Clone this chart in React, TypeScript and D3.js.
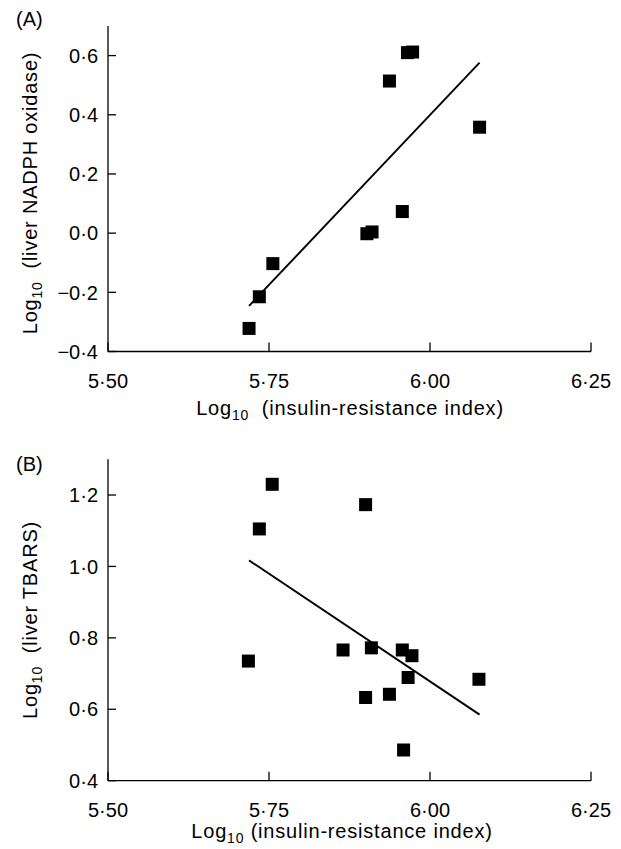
import React from "react";
import * as d3 from "d3";

const xTicks = [5.5, 5.75, 6.0, 6.25];
const xTickLabels = ["5·50", "5·75", "6·00", "6·25"];

const yTicksA = [-0.4, -0.2, 0.0, 0.2, 0.4, 0.6];
const yTickLabelsA = ["−0·4", "−0·2", "0·0", "0·2", "0·4", "0·6"];
const yTicksB = [0.4, 0.6, 0.8, 1.0, 1.2];
const yTickLabelsB = ["0·4", "0·6", "0·8", "1·0", "1·2"];

const xA = [5.719, 5.735, 5.756, 5.902, 5.910, 5.957, 5.937, 5.965, 5.973, 6.077];
const yA = [-0.322, -0.215, -0.103, -0.002, 0.004, 0.073, 0.514, 0.610, 0.612, 0.358];

const xB = [5.718, 5.735, 5.755, 5.900, 5.865, 5.909, 5.957, 5.972, 5.966, 5.900, 5.937, 5.959, 6.076];
const yB = [0.735, 1.105, 1.230, 1.173, 0.766, 0.772, 0.766, 0.750, 0.689, 0.633, 0.642, 0.486, 0.684];

const fitX = [5.719, 6.077];
const fitA = [-0.246, 0.576];
const fitB = [1.017, 0.585];

const FONT = "'Liberation Sans', Arial, Helvetica, sans-serif";

type PanelProps = {
  tag: string;
  yDomain: [number, number];
  yRange: [number, number];
  yTicks: number[];
  yTickLabels: string[];
  xs: number[];
  ys: number[];
  fitY: number[];
  yLabel: string;
  xLabelGap: string;
  xLabelX: number;
  xLabelY: number;
  yLabelY: number;
  tagY: number;
};

function Panel(p: PanelProps) {
  const x = d3.scaleLinear().domain([5.5, 6.25]).range([108, 591]);
  const y = d3.scaleLinear().domain(p.yDomain).range(p.yRange);
  const y0 = y(p.yDomain[0]);
  const y1 = y(p.yDomain[1]);
  const x0 = x(5.5);
  const x1 = x(6.25);
  const ms = 13;
  const line = d3
    .line<number>()
    .x((d) => x(d))
    .y((_, i) => y(p.fitY[i]));
  return (
    <g>
      <text x={16} y={p.tagY} fontFamily={FONT} fontSize={20} fill="#000">
        {p.tag}
      </text>
      <line x1={x0} y1={y1} x2={x0} y2={y0} stroke="#000" strokeWidth={1.3} />
      <line x1={x0} y1={y0} x2={x1} y2={y0} stroke="#000" strokeWidth={1.3} />
      {xTicks.map((t, i) => (
        <g key={"xt" + i}>
          <line x1={x(t)} x2={x(t)} y1={y0} y2={y0 - 9} stroke="#000" strokeWidth={1.3} />
          <text
            x={x(t)}
            y={y0 + 36}
            textAnchor="middle"
            fontFamily={FONT}
            fontSize={20}
            fill="#000"
          >
            {xTickLabels[i]}
          </text>
        </g>
      ))}
      {p.yTicks.map((t, i) => (
        <g key={"yt" + i}>
          <line x1={x0} x2={x0 + 8} y1={y(t)} y2={y(t)} stroke="#000" strokeWidth={1.3} />
          <text
            x={98}
            y={y(t)}
            dy="0.36em"
            textAnchor="end"
            fontFamily={FONT}
            fontSize={20}
            fill="#000"
          >
            {p.yTickLabels[i]}
          </text>
        </g>
      ))}
      <path d={line(fitX) || ""} fill="none" stroke="#000" strokeWidth={1.9} />
      {p.xs.map((v, i) => (
        <rect
          key={"pt" + i}
          x={x(v) - ms / 2}
          y={y(p.ys[i]) - ms / 2}
          width={ms}
          height={ms}
          fill="#000"
        />
      ))}
      <text
        x={p.xLabelX}
        y={p.xLabelY}
        textAnchor="middle"
        fontFamily={FONT}
        fontSize={20}
        letterSpacing={0.8}
        fill="#000"
        style={{ whiteSpace: "pre" }}
      >
        Log
        <tspan fontSize={14} dy={5}>10</tspan>
        <tspan dy={-5}>{p.xLabelGap + "(insulin-resistance index)"}</tspan>
      </text>
      <text
        transform={`translate(37,${p.yLabelY}) rotate(-90)`}
        textAnchor="middle"
        fontFamily={FONT}
        fontSize={20}
        letterSpacing={0.8}
        fill="#000"
        style={{ whiteSpace: "pre" }}
      >
        Log
        <tspan fontSize={14} dy={5}>10</tspan>
        <tspan dy={-5}>{"  " + p.yLabel}</tspan>
      </text>
    </g>
  );
}

export default function App() {
  return (
    <svg
      width={621}
      height={849}
      style={{ position: "absolute", left: 0, top: 0, background: "#fff" }}
    >
      <rect x={0} y={0} width={621} height={849} fill="#fff" />
      <Panel
        tag="(A)"
        tagY={26}
        yDomain={[-0.4, 0.7]}
        yRange={[351.5, 26]}
        yTicks={yTicksA}
        yTickLabels={yTickLabelsA}
        xs={xA}
        ys={yA}
        fitY={fitA}
        yLabel="(liver NADPH oxidase)"
        xLabelGap="  "
        xLabelX={350}
        xLabelY={415}
        yLabelY={193}
      />
      <Panel
        tag="(B)"
        tagY={471}
        yDomain={[0.4, 1.3]}
        yRange={[780.7, 459.3]}
        yTicks={yTicksB}
        yTickLabels={yTickLabelsB}
        xs={xB}
        ys={yB}
        fitY={fitB}
        yLabel="(liver TBARS)"
        xLabelGap=" "
        xLabelX={342}
        xLabelY={838}
        yLabelY={620}
      />
    </svg>
  );
}
